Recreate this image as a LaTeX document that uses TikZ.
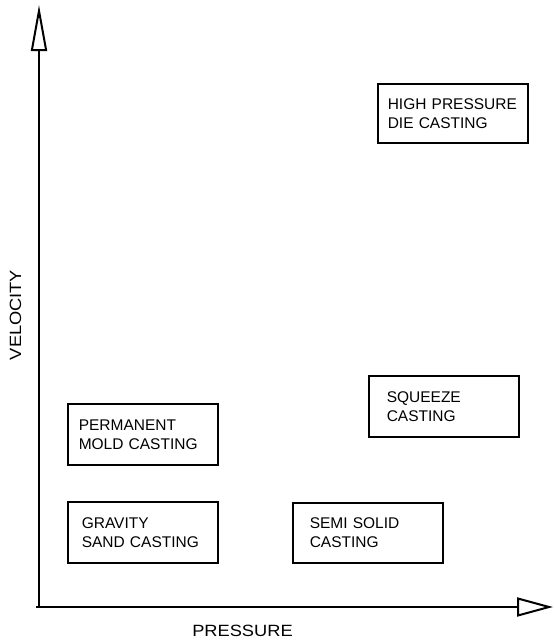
\documentclass[tikz,border=0pt]{standalone}
\usepackage{fontspec}
\setmainfont{Liberation Sans}
\usetikzlibrary{arrows.meta}

\tikzset{
  axis/.style={line width=2pt},
  castbox/.style={draw, line width=1.5pt, anchor=north west, align=left,
    inner xsep=#1, text width={150pt-2*#1}, minimum height=61pt,
    font=\fontsize{15.5}{19}\selectfont},
  castbox/.default=11pt,
  axislabel/.style={font=\fontsize{16.3}{18}\selectfont}
}

\begin{document}
\begin{tikzpicture}[x=1pt, y=-1pt]
\useasboundingbox (0,0) rectangle (554,641);

% axes
\coordinate (origin) at (39,607);
\coordinate (ytip) at (39,5);
\coordinate (xtip) at (553,607);
\draw[axis, -{Triangle[open, length=46pt, width=16pt, line width=2pt]}] (origin) -- (ytip);
\draw[axis, -{Triangle[open, length=36pt, width=19pt, line width=2pt]}] (36,607) -- (xtip);

\node[axislabel, rotate=90] (vel) at (15.5,315) {\scalebox{1.12}[1]{VELOCITY}};
\node[axislabel] (pres) at (242.5,631) {\scalebox{1.12}[1]{PRESSURE}};

% casting processes
\node[castbox=10pt, minimum height=59pt] (hpdc) at (377,83) {HIGH PRESSURE\\DIE CASTING};
\node[castbox=18pt] (squeeze) at (368,375) {SQUEEZE\\CASTING};
\node[castbox=11pt] (perm) at (67,403) {PERMANENT\\MOLD CASTING};
\node[castbox=14pt] (gravity) at (67,501) {GRAVITY\\SAND CASTING};
\node[castbox=17pt, minimum height=60pt] (semi) at (292,502) {SEMI SOLID\\CASTING};
\end{tikzpicture}
\end{document}
